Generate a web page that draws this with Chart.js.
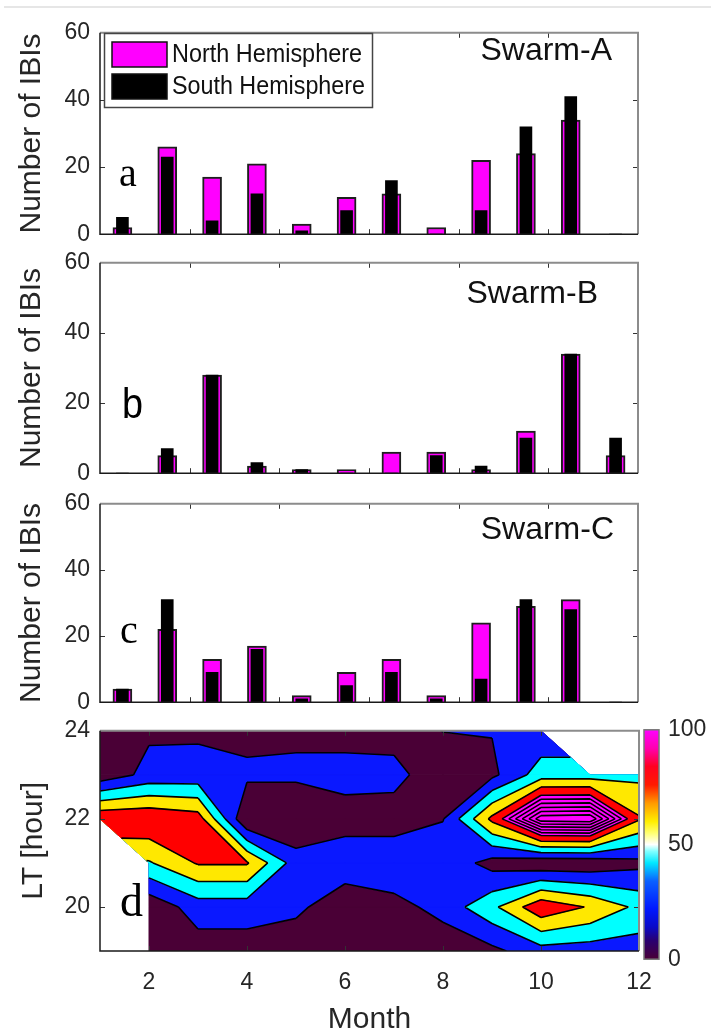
<!DOCTYPE html>
<html>
<head>
<meta charset="utf-8">
<title>Swarm IBIs by month</title>
<script src="https://cdn.jsdelivr.net/npm/chart.js@4.4.1/dist/chart.umd.min.js"></script>
<style>
  body { margin: 0; background: #fff; }
  #wrap { position: relative; width: 711px; height: 1035px; overflow: hidden; }
  #topline { position: absolute; left: 4px; top: 6px; width: 707px; height: 2px; background: #e6e6e6; }
  canvas { position: absolute; }
</style>
</head>
<body>
<div id="wrap">
  <div id="topline"></div>
  <canvas id="chartA" width="711" height="249" style="left:0;top:9px"></canvas>
  <canvas id="chartB" width="711" height="258" style="left:0;top:239px"></canvas>
  <canvas id="chartC" width="711" height="246" style="left:0;top:480px"></canvas>
  <canvas id="chartD" width="711" height="328" style="left:0;top:707px"></canvas>
  <canvas id="cbar" width="81" height="275" style="left:630px;top:707px"></canvas>
</div>
<script>
// ---- data ----
const months = ['1','2','3','4','5','6','7','8','9','10','11','12'];
const countTicks = [0, 20, 40, 60];

const northA = [2, 26, 17, 21, 3, 11, 12, 2, 22, 24, 34, 0];
const southA = [5, 23, 4, 12, 1, 7, 16, 0, 7, 32, 41, 0];
const northB = [0, 5, 28, 2, 1, 1, 6, 6, 1, 12, 34, 5];
const southB = [0, 7, 28, 3, 1, 0, 0, 5, 2, 10, 34, 10];
const northC = [4, 22, 13, 17, 2, 9, 13, 2, 24, 29, 31, 0];
const southC = [4, 31, 9, 16, 1, 5, 9, 1, 7, 31, 28, 0];

// occurrence (%) on a month x LT grid, null = no data
const gridMonths = [1, 2, 3, 4, 5, 6, 7, 8, 9, 10, 11, 12];
const gridHours = [19, 20, 21, 22, 23, 24];
const lt19 = [null, 3, 10, 10, 0, 3, 3, 5, 15, 32, 30, 30];
const lt20 = [null, 5, 30, 30, 27, 0, 12, 28, 55, 95, 78, 55];
const lt21 = [null, 58, 82, 82, 30, 38, 38, 35, 12, 4, 5, 14];
const lt22 = [97, 98, 90, 0, 0, 8, 8, 19, 85, 158, 160, 82];
const lt23 = [7, 26, 27, 24, 24, 30, 28, 3, 15, 50, 50, 55];
const lt24 = [8, 17, 17, 14, 16, 10, 10, 20.5, 21, 25, null, null];
const contourLevels = [20, 40, 60, 80, 100, 110, 120, 130, 140, 150];
const monthTicks = [2, 4, 6, 8, 10, 12];
const hourTicks = [20, 22, 24];
const colorbarTicks = [0, 50, 100];

// ---- styles ----
const SANS = "'Liberation Sans', Arial, sans-serif";
const tickFont = { family: SANS, size: 23 };
const titleFont = { family: SANS, size: 30, lineHeight: 1 };
const bandColors = ['#4a0036', '#0a18ff', '#00ffff', '#ffe800', '#ff0000', '#ff00ff'];
const cmapStops = [
  [0, '#4a0036'], [0.08, '#2a0070'], [0.14, '#0a0ac8'], [0.22, '#0018ff'],
  [0.34, '#0a60ff'], [0.42, '#00e8ff'], [0.47, '#80ffff'], [0.5, '#ffffff'],
  [0.55, '#ffff70'], [0.6, '#ffee00'], [0.68, '#ff9a00'], [0.76, '#ff1a00'],
  [0.84, '#ff0020'], [0.92, '#ff00b0'], [1, '#ff00ff']
];

function fitText(ctx, t) {
  ctx.save();
  ctx.font = t.font;
  ctx.fillStyle = t.color || '#111';
  ctx.textBaseline = t.baseline || 'middle';
  ctx.textAlign = 'left';
  const mw = ctx.measureText(t.text).width;
  const sx = t.w ? t.w / mw : 1;
  const x = t.right ? t.right - mw * sx : t.x;
  ctx.translate(x, t.y);
  ctx.scale(sx, 1);
  ctx.fillText(t.text, 0, 0);
  ctx.restore();
}

// box, inner ticks and free text
const framePlugin = {
  id: 'frame',
  afterDraw(chart, args, opts) {
    const { ctx, chartArea: a, scales } = chart;
    ctx.save();
    ctx.strokeStyle = '#333';
    ctx.lineWidth = 1;
    ctx.beginPath();
    (opts.xTicks || []).forEach(v => {
      const px = Math.round(scales.x.getPixelForValue(v)) + 0.5;
      ctx.moveTo(px, a.top); ctx.lineTo(px, a.top + 5);
      ctx.moveTo(px, a.bottom); ctx.lineTo(px, a.bottom - 5);
    });
    (opts.yTicks || []).forEach(v => {
      const py = Math.round(scales.y.getPixelForValue(v)) + 0.5;
      ctx.moveTo(a.left, py); ctx.lineTo(a.left + 5, py);
      ctx.moveTo(a.right, py); ctx.lineTo(a.right - 5, py);
    });
    ctx.stroke();
    ctx.lineWidth = 2;
    ctx.strokeStyle = '#8c8c8c';
    ctx.beginPath();
    ctx.moveTo(a.left, a.top); ctx.lineTo(a.right, a.top); ctx.lineTo(a.right, a.bottom);
    ctx.stroke();
    ctx.strokeStyle = '#1a1a1a';
    ctx.lineWidth = 1.5;
    ctx.beginPath();
    ctx.moveTo(a.left, a.top); ctx.lineTo(a.left, a.bottom); ctx.lineTo(a.right, a.bottom);
    ctx.stroke();
    ctx.restore();
    (opts.texts || []).forEach(t => fitText(ctx, t));
  }
};

// legend drawn inside panel a
const boxLegend = {
  id: 'boxLegend',
  afterDraw(chart, args, opts) {
    if (!opts.show) return;
    const ctx = chart.ctx;
    const top = opts.y - chart.canvas.offsetTop;
    ctx.save();
    ctx.fillStyle = '#fff';
    ctx.fillRect(opts.x, top, opts.w, opts.h);
    ctx.strokeStyle = '#444';
    ctx.lineWidth = 1.5;
    ctx.strokeRect(opts.x + 0.5, top + 0.5, opts.w, opts.h);
    chart.data.datasets.forEach((ds, i) => {
      const sy = top + 9 + i * 32;
      ctx.fillStyle = ds.backgroundColor;
      ctx.fillRect(opts.x + 8, sy, 55, 25);
      ctx.strokeStyle = '#111';
      ctx.lineWidth = 1.5;
      ctx.strokeRect(opts.x + 8, sy, 55, 25);
      fitText(ctx, { text: ds.label, x: opts.x + 68, y: sy + 13, w: opts.textW[i], font: '26px ' + SANS });
    });
    ctx.restore();
  }
};

function barPanel(id, north, south, name, letter, legend) {
  const el = document.getElementById(id);
  const top = el.offsetTop;
  return new Chart(el, {
    type: 'bar',
    data: {
      labels: months,
      datasets: [
        { label: 'North Hemisphere', data: north, backgroundColor: '#ff00ff', borderColor: '#1e1e1e',
          borderWidth: 2, barThickness: 19, grouped: false, order: 1 },
        { label: 'South Hemisphere', data: south, backgroundColor: '#000000', borderWidth: 0,
          barThickness: 12, grouped: false, order: 0 }
      ]
    },
    options: {
      responsive: false,
      animation: false,
      layout: { padding: { left: 0, right: 73, top: 20, bottom: 20 } },
      plugins: {
        legend: { display: false },
        tooltip: { enabled: false },
        frame: {
          xTicks: [1.5, 3.5, 5.5, 7.5, 9.5],
          yTicks: [20, 40],
          texts: [
            Object.assign({ font: '32px ' + SANS }, name, { y: name.y - top }),
            Object.assign({}, letter, { y: letter.y - top, baseline: 'alphabetic' })
          ]
        },
        boxLegend: legend || { show: false }
      },
      scales: {
        x: {
          type: 'category', offset: true,
          grid: { display: false, drawTicks: false }, border: { display: false },
          ticks: { display: false },
          afterFit(s) { s.height = 0; }
        },
        y: {
          min: 0, max: 60,
          afterBuildTicks(s) { s.ticks = countTicks.map(v => ({ value: v })); },
          grid: { display: false, drawTicks: false }, border: { display: false },
          ticks: { font: tickFont, color: '#262626', padding: 10 },
          title: { display: true, text: 'Number of IBIs', font: titleFont, color: '#262626', padding: { top: 17, bottom: 0 } },
          afterFit(s) { s.width = 100; }
        }
      }
    },
    plugins: [framePlugin, boxLegend]
  });
}

barPanel('chartA', northA, southA,
  { text: 'Swarm-A', right: 612, y: 51 },
  { text: 'a', x: 119, y: 186, font: '40px Liberation Serif', color: '#000' },
  { show: true, x: 104, y: 33, w: 268, h: 74, textW: [190, 193] });
barPanel('chartB', northB, southB,
  { text: 'Swarm-B', right: 598, y: 294 },
  { text: 'b', x: 122, y: 418, w: 21, font: '42px ' + SANS, color: '#000' });
barPanel('chartC', northC, southC,
  { text: 'Swarm-C', right: 614, y: 530 },
  { text: 'c', x: 120, y: 643, font: '40px Liberation Serif', color: '#000' });

// ---- filled contour (panel d), marching squares on the month x LT grid ----
const grid = [lt19, lt20, lt21, lt22, lt23, lt24];

function cellDomain(i, j) {
  const pts = [
    [gridMonths[i], gridHours[j], grid[j][i]],
    [gridMonths[i + 1], gridHours[j], grid[j][i + 1]],
    [gridMonths[i + 1], gridHours[j + 1], grid[j + 1][i + 1]],
    [gridMonths[i], gridHours[j + 1], grid[j + 1][i]]
  ];
  const valid = pts.filter(p => p[2] !== null);
  return valid.length >= 3 ? valid : null;
}

function abovePolys(cell, L) {
  const n = cell.length;
  const inside = cell.map(p => p[2] >= L);
  const cross = (p, q) => {
    const t = (L - p[2]) / (q[2] - p[2]);
    return { x: p[0] + t * (q[0] - p[0]), y: p[1] + t * (q[1] - p[1]), cross: true };
  };
  if (n === 4 && inside[0] === inside[2] && inside[1] === inside[3] && inside[0] !== inside[1]) {
    const center = (cell[0][2] + cell[1][2] + cell[2][2] + cell[3][2]) / 4;
    if (center < L) {
      const polys = [];
      for (let k = 0; k < 4; k++) {
        if (!inside[k]) continue;
        const p = cell[k], prev = cell[(k + 3) % 4], next = cell[(k + 1) % 4];
        polys.push([cross(prev, p), { x: p[0], y: p[1], cross: false }, cross(p, next)]);
      }
      return polys;
    }
  }
  const out = [];
  for (let k = 0; k < n; k++) {
    const p = cell[k], q = cell[(k + 1) % n];
    if (inside[k]) out.push({ x: p[0], y: p[1], cross: false });
    if (inside[k] !== inside[(k + 1) % n]) out.push(cross(p, q));
  }
  return out.length > 2 ? [out] : [];
}

const contourPlugin = {
  id: 'contour',
  beforeDatasetsDraw(chart) {
    const { ctx, chartArea: a, scales: { x, y } } = chart;
    const P = p => [x.getPixelForValue(p.x), y.getPixelForValue(p.y)];
    const path = poly => {
      ctx.beginPath();
      poly.forEach((p, k) => { const q = P(p); if (k) ctx.lineTo(q[0], q[1]); else ctx.moveTo(q[0], q[1]); });
      ctx.closePath();
    };
    const cells = [];
    for (let j = 0; j < gridHours.length - 1; j++) {
      for (let i = 0; i < gridMonths.length - 1; i++) {
        const c = cellDomain(i, j);
        if (c) cells.push(c);
      }
    }
    ctx.save();
    ctx.beginPath();
    ctx.rect(a.left, a.top, a.right - a.left, a.bottom - a.top);
    ctx.clip();
    ctx.lineJoin = 'round';
    for (let k = 0; k <= contourLevels.length; k++) {
      const col = bandColors[Math.min(k, bandColors.length - 1)];
      ctx.fillStyle = col;
      ctx.strokeStyle = col;
      ctx.lineWidth = 1;
      cells.forEach(cell => {
        const polys = k === 0 ? [cell.map(p => ({ x: p[0], y: p[1] }))] : abovePolys(cell, contourLevels[k - 1]);
        polys.forEach(poly => { path(poly); ctx.fill(); ctx.stroke(); });
      });
    }
    ctx.strokeStyle = '#000';
    ctx.lineWidth = 1.6;
    ctx.beginPath();
    contourLevels.forEach(L => cells.forEach(cell => abovePolys(cell, L).forEach(poly => {
      for (let k = 0; k < poly.length; k++) {
        const p = poly[k], q = poly[(k + 1) % poly.length];
        if (p.cross && q.cross) {
          const s = P(p), e = P(q);
          ctx.moveTo(s[0], s[1]);
          ctx.lineTo(e[0], e[1]);
        }
      }
    })));
    ctx.stroke();
    ctx.restore();
  }
};

new Chart(document.getElementById('chartD'), {
  type: 'scatter',
  data: { datasets: [{ data: [] }] },
  options: {
    responsive: false,
    animation: false,
    layout: { padding: { left: 0, right: 72, top: 20, bottom: 0 } },
    plugins: {
      legend: { display: false },
      tooltip: { enabled: false },
      frame: {
        xTicks: monthTicks.slice(0, -1),
        yTicks: [20, 22],
        texts: [{ text: 'd', x: 120, y: 916 - 707, font: '46px Liberation Serif', color: '#000', baseline: 'alphabetic' }]
      }
    },
    scales: {
      x: {
        type: 'linear', min: 1, max: 12,
        afterBuildTicks(s) { s.ticks = monthTicks.map(v => ({ value: v })); },
        grid: { display: false, drawTicks: false }, border: { display: false },
        ticks: { font: tickFont, color: '#262626', padding: 18 },
        title: { display: true, text: 'Month', font: titleFont, color: '#262626', padding: { top: 0, bottom: 0 } },
        afterFit(s) { s.height = 84; }
      },
      y: {
        type: 'linear', min: 19, max: 24,
        afterBuildTicks(s) { s.ticks = hourTicks.map(v => ({ value: v })); },
        grid: { display: false, drawTicks: false }, border: { display: false },
        ticks: { font: tickFont, color: '#262626', padding: 10 },
        title: { display: true, text: 'LT [hour]', font: titleFont, color: '#262626', padding: { top: 19, bottom: 0 } },
        afterFit(s) { s.width = 100; }
      }
    }
  },
  plugins: [contourPlugin, framePlugin]
});

// ---- colour bar ----
const gradientPlugin = {
  id: 'gradientBar',
  beforeDatasetsDraw(chart) {
    const { ctx, chartArea: a, scales: { y } } = chart;
    const g = ctx.createLinearGradient(0, y.getPixelForValue(0), 0, y.getPixelForValue(100));
    cmapStops.forEach(s => g.addColorStop(s[0], s[1]));
    ctx.save();
    ctx.fillStyle = g;
    ctx.fillRect(a.left, a.top, a.right - a.left, a.bottom - a.top);
    ctx.strokeStyle = '#777';
    ctx.lineWidth = 1.5;
    ctx.strokeRect(a.left, a.top, a.right - a.left, a.bottom - a.top);
    ctx.restore();
  }
};

new Chart(document.getElementById('cbar'), {
  type: 'scatter',
  data: { datasets: [{ data: [] }] },
  options: {
    responsive: false,
    animation: false,
    layout: { padding: { left: 14, right: 0, top: 20, bottom: 20 } },
    plugins: { legend: { display: false }, tooltip: { enabled: false } },
    scales: {
      x: { display: false },
      y: {
        position: 'right', min: 0, max: 100,
        afterBuildTicks(s) { s.ticks = colorbarTicks.map(v => ({ value: v })); },
        grid: { display: false, drawTicks: false }, border: { display: false },
        ticks: { font: tickFont, color: '#262626', padding: 9 },
        afterFit(s) { s.width = 52; }
      }
    }
  },
  plugins: [gradientPlugin]
});
</script>
</body>
</html>
